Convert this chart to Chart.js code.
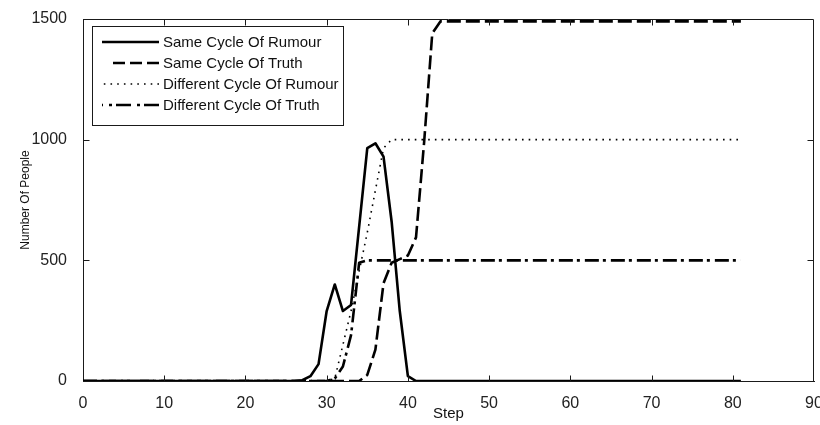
<!DOCTYPE html>
<html>
<head>
<meta charset="utf-8">
<script src="https://cdn.jsdelivr.net/npm/chart.js@4/dist/chart.umd.min.js"></script>
<style>
  html, body { margin: 0; padding: 0; background: #fff; overflow: hidden; width: 820px; height: 425px; }
  canvas { display: block; }
</style>
</head>
<body>
<canvas id="c" width="840" height="425"></canvas>
<script>
// ---- data ----
const steps = [
  0, 1, 2, 3, 4, 5, 6, 7, 8, 9,
  10, 11, 12, 13, 14, 15, 16, 17, 18, 19,
  20, 21, 22, 23, 24, 25, 26, 27, 28, 29,
  30, 31, 32, 33, 34, 35, 36, 37, 38, 39,
  40, 41, 42, 43, 44, 45, 46, 47, 48, 49,
  50, 51, 52, 53, 54, 55, 56, 57, 58, 59,
  60, 61, 62, 63, 64, 65, 66, 67, 68, 69,
  70, 71, 72, 73, 74, 75, 76, 77, 78, 79,
  80, 81
];
const sameCycleRumour = [
  0, 0, 0, 0, 0, 0, 0, 0, 0, 0,
  0, 0, 0, 0, 0, 0, 0, 0, 0, 0,
  0, 0, 0, 0, 0, 0, 0, 3, 20, 70,
  290, 400, 290, 315, 640, 965, 985, 930, 660, 290,
  20, 0, 0, 0, 0, 0, 0, 0, 0, 0,
  0, 0, 0, 0, 0, 0, 0, 0, 0, 0,
  0, 0, 0, 0, 0, 0, 0, 0, 0, 0,
  0, 0, 0, 0, 0, 0, 0, 0, 0, 0,
  0, 0
];
const sameCycleTruth = [
  0, 0, 0, 0, 0, 0, 0, 0, 0, 0,
  0, 0, 0, 0, 0, 0, 0, 0, 0, 0,
  0, 0, 0, 0, 0, 0, 0, 0, 0, 0,
  0, 0, 0, 0, 0, 25, 130, 405, 490, 505,
  520, 595, 990, 1440, 1490, 1490, 1490, 1490, 1490, 1490,
  1490, 1490, 1490, 1490, 1490, 1490, 1490, 1490, 1490, 1490,
  1490, 1490, 1490, 1490, 1490, 1490, 1490, 1490, 1490, 1490,
  1490, 1490, 1490, 1490, 1490, 1490, 1490, 1490, 1490, 1490,
  1490, 1490
];
const differentCycleRumour = [
  0, 0, 0, 0, 0, 0, 0, 0, 0, 0,
  0, 0, 0, 0, 0, 0, 0, 0, 0, 0,
  0, 0, 0, 0, 0, 0, 0, 0, 0, 0,
  0, 10, 150, 290, 455, 615, 790, 965, 1000, 1000,
  1000, 1000, 1000, 1000, 1000, 1000, 1000, 1000, 1000, 1000,
  1000, 1000, 1000, 1000, 1000, 1000, 1000, 1000, 1000, 1000,
  1000, 1000, 1000, 1000, 1000, 1000, 1000, 1000, 1000, 1000,
  1000, 1000, 1000, 1000, 1000, 1000, 1000, 1000, 1000, 1000,
  1000, 1000
];
const differentCycleTruth = [
  0, 0, 0, 0, 0, 0, 0, 0, 0, 0,
  0, 0, 0, 0, 0, 0, 0, 0, 0, 0,
  0, 0, 0, 0, 0, 0, 0, 0, 0, 0,
  0, 10, 60, 190, 490, 500, 500, 500, 500, 500,
  500, 500, 500, 500, 500, 500, 500, 500, 500, 500,
  500, 500, 500, 500, 500, 500, 500, 500, 500, 500,
  500, 500, 500, 500, 500, 500, 500, 500, 500, 500,
  500, 500, 500, 500, 500, 500, 500, 500, 500, 500,
  500, 500
];
const seriesLabels = [
  'Same Cycle Of Rumour',
  'Same Cycle Of Truth',
  'Different Cycle Of Rumour',
  'Different Cycle Of Truth'
];
const xTicks = [0, 10, 20, 30, 40, 50, 60, 70, 80, 90];
const yTicks = [0, 500, 1000, 1500];
const xTitle = 'Step';
const yTitle = 'Number Of People';

// ---- styling ----
const FONT = '"Liberation Sans", Arial, Helvetica, sans-serif';
const toPts = arr => steps.map((s, i) => ({ x: s, y: arr[i] }));

const styles = [
  { borderWidth: 2.6, borderDash: [] , legendLen: 57 },
  { borderWidth: 2.6, borderDash: [14, 5], legendDash: [12, 5], legendLen: 46 },
  { borderWidth: 1.6, borderDash: [1.6, 5.1], legendLen: 58 },
  { borderWidth: 2.6, borderDash: [14, 4, 3, 5], legendDash: [15, 4, 3, 6], legendLen: 57 }
];
const seriesData = [sameCycleRumour, sameCycleTruth, differentCycleRumour, differentCycleTruth];

const datasets = seriesData.map((arr, i) => Object.assign({
  label: seriesLabels[i],
  data: toPts(arr),
  borderColor: '#000',
  backgroundColor: '#000',
  fill: false,
  pointRadius: 0,
  tension: 0,
  borderCapStyle: 'butt',
  borderJoinStyle: 'round'
}, styles[i]));

// inside ticks + top/right frame (MATLAB-like box)
const frameTicks = {
  id: 'frameTicks',
  afterDatasetsDraw(chart) {
    const { ctx, chartArea: a, scales: { x, y } } = chart;
    const top = Math.round(a.top) + 0.5;
    const bottom = Math.round(a.bottom) + 0.5;
    const left = Math.round(a.left) + 0.5;
    const right = Math.round(a.right) - 0.5;
    const TL = 6;
    ctx.save();
    ctx.setLineDash([]);
    ctx.strokeStyle = '#1a1a1a';
    ctx.lineWidth = 1;
    ctx.beginPath();
    ctx.moveTo(left, top); ctx.lineTo(right, top); ctx.lineTo(right, bottom);
    xTicks.forEach(v => {
      if (v === x.min || v === x.max) return;
      const px = Math.round(x.getPixelForValue(v)) + 0.5;
      ctx.moveTo(px, bottom); ctx.lineTo(px, bottom - TL);
      ctx.moveTo(px, top); ctx.lineTo(px, top + TL);
    });
    yTicks.forEach(v => {
      if (v === y.min || v === y.max) return;
      const py = Math.round(y.getPixelForValue(v)) + 0.5;
      ctx.moveTo(left, py); ctx.lineTo(left + TL, py);
      ctx.moveTo(right, py); ctx.lineTo(right - TL, py);
    });
    ctx.stroke();
    ctx.restore();
  }
};

// boxed legend inside the plot (upper left)
const legendBox = {
  id: 'legendBox',
  afterDatasetsDraw(chart) {
    const { ctx, chartArea: a } = chart;
    const L = Math.round(a.left) + 9, T = Math.round(a.top) + 7, W = 251, H = 99;
    ctx.save();
    ctx.fillStyle = '#fff';
    ctx.fillRect(L, T, W, H);
    ctx.setLineDash([]);
    ctx.strokeStyle = '#1a1a1a';
    ctx.lineWidth = 1;
    ctx.strokeRect(L + 0.5, T + 0.5, W, H);
    ctx.font = '15px ' + FONT;
    ctx.textBaseline = 'middle';
    ctx.textAlign = 'left';
    chart.data.datasets.forEach((ds, i) => {
      const yy = T + 16 + i * 21;
      const x1 = L + 67, x0 = x1 - ds.legendLen;
      ctx.beginPath();
      ctx.setLineDash(ds.legendDash || ds.borderDash || []);
      ctx.lineWidth = ds.borderWidth;
      ctx.strokeStyle = ds.borderColor;
      ctx.moveTo(x1, yy);
      ctx.lineTo(x0, yy);
      ctx.stroke();
      ctx.setLineDash([]);
      ctx.fillStyle = '#111';
      ctx.fillText(ds.label, L + 71, yy + 1);
    });
    ctx.restore();
  }
};

new Chart(document.getElementById('c'), {
  type: 'line',
  data: { datasets },
  options: {
    responsive: false,
    animation: false,
    devicePixelRatio: 1,
    layout: { padding: { top: 19, right: 26, left: 0, bottom: 0 } },
    plugins: { legend: { display: false }, tooltip: { enabled: false } },
    scales: {
      x: {
        type: 'linear',
        min: 0, max: 90,
        afterFit: s => { s.height = 44; },
        afterBuildTicks: s => { s.ticks = xTicks.map(v => ({ value: v })); },
        ticks: { stepSize: 10, color: '#222', padding: 5, maxRotation: 0, autoSkip: false,
                 callback: v => String(v),
                 font: { family: FONT, size: 16 } },
        grid: { display: false },
        border: { display: true, color: '#1a1a1a', width: 1 },
        title: { display: true, text: xTitle, color: '#111',
                 font: { family: FONT, size: 15 }, padding: { top: 0, bottom: 2 } }
      },
      y: {
        type: 'linear',
        min: 0, max: 1500,
        afterFit: s => { s.width = 83; },
        afterBuildTicks: s => { s.ticks = yTicks.map(v => ({ value: v })); },
        ticks: { color: '#222', padding: 8, callback: v => String(v),
                 font: { family: FONT, size: 16 } },
        grid: { display: false },
        border: { display: true, color: '#1a1a1a', width: 1 },
        title: { display: true, text: yTitle, color: '#111',
                 font: { family: FONT, size: 12 }, padding: { top: 18, bottom: 0 } }
      }
    }
  },
  plugins: [frameTicks, legendBox]
});
</script>
</body>
</html>
